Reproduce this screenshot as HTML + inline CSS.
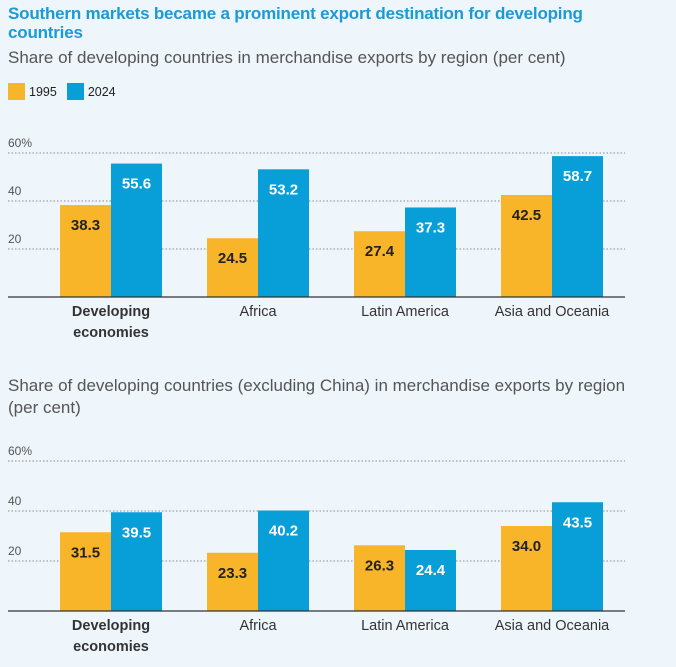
<!DOCTYPE html>
<html><head><meta charset="utf-8"><style>
body{margin:0;background:#eef6fc;font-family:"Liberation Sans",sans-serif;}
#wrap{position:relative;width:676px;height:667px;overflow:hidden;background:#eef6fc;}
.t{position:absolute;left:8px;}
</style></head><body>
<div id="wrap">
<div class="t" style="top:4px;width:600px;color:#1a9ad6;font-weight:bold;font-size:17px;line-height:19px;letter-spacing:-0.2px">Southern markets became a prominent export destination for developing countries</div>
<div class="t" style="top:48px;color:#555;font-size:17px;">Share of developing countries in merchandise exports by region (per cent)</div>
<div class="t" style="top:83px;font-size:12.5px;color:#222;display:flex;align-items:center">
<span style="width:17px;height:17px;background:#f9b529;display:inline-block;margin-right:4px"></span><span style="margin-right:10px">1995</span>
<span style="width:17px;height:17px;background:#089fd9;display:inline-block;margin-right:4px"></span><span>2024</span></div>
<div class="t" style="top:375px;width:625px;color:#555;font-size:17px;line-height:22px">Share of developing countries (excluding China) in merchandise exports by region (per cent)</div>
<svg id="svg" width="676" height="667" style="position:absolute;left:0;top:0"></svg>
</div>
<script>
const categories=["Developing economies","Africa","Latin America","Asia and Oceania"];
const top1995=[38.3,24.5,27.4,42.5];
const top2024=[55.6,53.2,37.3,58.7];
const bot1995=[31.5,23.3,26.3,34.0];
const bot2024=[39.5,40.2,24.4,43.5];
const ticks=[20,40,60];
const svg=document.getElementById('svg');
const NS='http://www.w3.org/2000/svg';
function mk(tag,attrs,parent){const e=document.createElementNS(NS,tag);for(const k in attrs)e.setAttribute(k,attrs[k]);(parent||svg).appendChild(e);return e;}
function chart(prefix,base,pxPer,a,b){
  const y=v=>base-v*pxPer;
  const g=mk('g',{});
  
  
  ticks.forEach(t=>{
    const l=mk('line',{x1:8,x2:625,y1:y(t),y2:y(t),stroke:'#888','stroke-width':1,'stroke-dasharray':'1.5,2'},g);
    
    
    const tx=mk('text',{x:8,y:y(t)-6,'font-size':12,fill:'#555','font-family':'Liberation Sans'},g);
    tx.textContent=t===60?'60%':String(t);
    
    
  });
  const x0=111,step=147,bw=51;
  categories.forEach((c,i)=>{
    const cx=x0+i*step;
    [[a[i],'#f9b529','#222',cx-bw,'1995'],[b[i],'#089fd9','#fff',cx,'2024']].forEach(([v,col,tc,bx,yr])=>{
      const r=mk('rect',{x:bx,y:y(v),width:bw,height:v*pxPer,fill:col},g);
      
      
      const tx=mk('text',{x:bx+bw/2,y:y(v)+25,'font-size':15,'font-weight':'bold',fill:tc,'text-anchor':'middle','font-family':'Liberation Sans'},g);
      tx.textContent=v.toFixed(1);
      
      
    });
    const words=i===0?['Developing','economies']:[c];
    words.forEach((w,k)=>{
      const tx=mk('text',{x:cx,y:base+19+k*21,'font-size':14.5,'text-anchor':'middle',fill:'#333','font-weight':i===0?'bold':'normal','font-family':'Liberation Sans'},g);
      tx.textContent=w;
      
      
    });
  });
  const ax=mk('line',{x1:8,x2:625,y1:base,y2:base,stroke:'#333','stroke-width':1.2},g);
  
  
}
chart('top',297,2.4,top1995,top2024);
chart('bottom',611,2.5,bot1995,bot2024);
</script>
</body></html>
